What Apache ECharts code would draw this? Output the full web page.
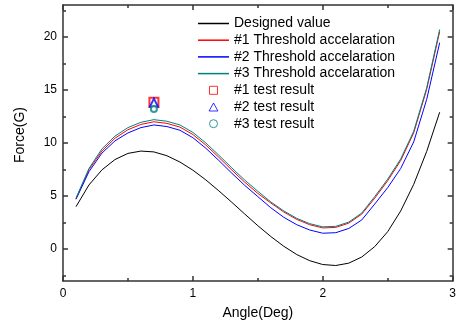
<!DOCTYPE html>
<html>
<head>
<meta charset="utf-8">
<script src="https://cdn.jsdelivr.net/npm/echarts@6/dist/echarts.min.js"></script>
<style>html,body{margin:0;padding:0;background:#fff;}#c{width:459px;height:325px;}</style>
</head>
<body>
<div id="c"></div>
<script>
var angles = [0.1,0.2,0.3,0.4,0.5,0.6,0.7,0.8,0.9,1.0,1.1,1.2,1.3,1.4,1.5,1.6,1.7,1.8,1.9,2.0,2.1,2.2,2.3,2.4,2.5,2.6,2.7,2.8,2.9];
var designed = [4.0,6.05,7.47,8.44,9.02,9.24,9.16,8.80,8.21,7.44,6.52,5.49,4.41,3.30,2.21,1.19,0.27,-0.51,-1.09,-1.45,-1.54,-1.32,-0.74,0.24,1.65,3.6,6.1,9.2,12.9];
var threshold1 = [4.75,7.5,9.25,10.45,11.25,11.75,12.0,11.85,11.5,10.8,9.8,8.65,7.45,6.3,5.25,4.35,3.5,2.8,2.3,2.0,2.05,2.45,3.3,4.8,6.45,8.35,10.95,15.05,20.5];
var threshold2 = [4.7,7.3,9.05,10.2,10.95,11.45,11.7,11.55,11.2,10.5,9.5,8.35,7.15,6.0,4.95,3.9,3.0,2.3,1.8,1.5,1.55,1.95,2.75,4.25,5.8,7.6,10.1,14.1,19.45];
var threshold3 = [4.8,7.6,9.45,10.65,11.45,11.95,12.2,12.05,11.7,11.0,10.0,8.85,7.65,6.5,5.45,4.45,3.6,2.9,2.4,2.1,2.15,2.55,3.4,4.95,6.6,8.5,11.1,15.2,20.7];
var testAngle = [0.7];
var test1 = [13.85];
var test2 = [13.8];
var test3 = [13.2];
var xMajor = [0,1,2,3];
var xMinor = [0.5,1.5,2.5];
var yMajor = [0,5,10,15,20];
var yMinor = [-2.5,2.5,7.5,12.5,17.5,22.5];
var names = ['Designed value','#1 Threshold accelaration','#2 Threshold accelaration','#3 Threshold accelaration','#1 test result','#2 test result','#3 test result'];
var colors = ['#000000','#ff0000','#0000ff','#008080','#ff0000','#0000ff','#008080'];

var LINE_ICON = 'path://M0,0H62V3H0Z';
var SQUARE_ICON = 'path://M0,0H10V10H0Z';
var TRI_ICON = 'path://M5,0L10,9L0,9Z';

function pairs(xs, ys){ return xs.map(function(x,i){ return [x, ys[i]]; }); }
var FONT = 'Liberation Sans, Arial, sans-serif';
var AX = {color:'#333', width:1.5};

function xAx(pos, ticks, len, showLine, labels){
  return {type:'value', min:0, max:3, position:pos, splitLine:{show:false},
    axisLine:{show:showLine, onZero:false, lineStyle:AX},
    axisTick:{show:true, inside:true, length:len, customValues:ticks, lineStyle:AX},
    axisLabel:labels ? {show:true, customValues:ticks, margin:7, fontSize:12, color:'#000', fontFamily:FONT} : {show:false}
  };
}
function yAx(pos, ticks, len, showLine, labels){
  return {type:'value', min:-3, max:23, position:pos, splitLine:{show:false},
    axisLine:{show:showLine, onZero:false, lineStyle:AX},
    axisTick:{show:true, inside:true, length:len, customValues:ticks, lineStyle:AX},
    axisLabel:labels ? {show:true, customValues:ticks, margin:6, fontSize:12, color:'#000', fontFamily:FONT} : {show:false}
  };
}

var xAxes = [xAx('bottom', xMajor, 5, true, true), xAx('bottom', xMinor, 3, false, false), xAx('top', xMajor, 5, true, false), xAx('top', xMinor, 3, false, false)];
xAxes[0].name = 'Angle(Deg)';
xAxes[0].nameLocation = 'middle';
xAxes[0].nameGap = 25;
xAxes[0].nameTextStyle = {fontSize:14, color:'#000', fontFamily:FONT};
var yAxes = [yAx('left', yMajor, 5, true, true), yAx('left', yMinor, 3, false, false), yAx('right', yMajor, 5, true, false), yAx('right', yMinor, 3, false, false)];

function lineS(name, ys, color){
  return {name:name, type:'line', data:pairs(angles, ys), symbol:'none', showSymbol:false,
    lineStyle:{color:color, width:1}, itemStyle:{color:color}, animation:false, xAxisIndex:0, yAxisIndex:0};
}
function scatS(name, ys, sym, size, color){
  return {name:name, type:'scatter', data:pairs(testAngle, ys), symbol:sym, symbolSize:size,
    itemStyle:{color:color, borderColor:color, borderWidth:1}, animation:false, xAxisIndex:0, yAxisIndex:0, z:5};
}

var legendData = [
  {name:names[0], icon:LINE_ICON, itemStyle:{color:colors[0], borderWidth:0}},
  {name:names[1], icon:LINE_ICON, itemStyle:{color:colors[1], borderWidth:0}},
  {name:names[2], icon:LINE_ICON, itemStyle:{color:colors[2], borderWidth:0}},
  {name:names[3], icon:LINE_ICON, itemStyle:{color:colors[3], borderWidth:0}},
  {name:names[4], icon:SQUARE_ICON, itemStyle:{color:'#fff', borderColor:colors[4], borderWidth:1}},
  {name:names[5], icon:TRI_ICON, itemStyle:{color:'#fff', borderColor:colors[5], borderWidth:1}},
  {name:names[6], icon:'circle', itemStyle:{color:'#fff', borderColor:colors[6], borderWidth:1}}
];

var chart = echarts.init(document.getElementById('c'), null, {renderer:'canvas'});
chart.setOption({
  animation:false,
  grid:{left:63, top:5, right:3, bottom:44, containLabel:false},
  xAxis:xAxes,
  yAxis:yAxes,
  legend:{
    orient:'vertical', left:198, top:16.5, padding:0, itemWidth:31, itemHeight:8, itemGap:2.7,
    symbolKeepAspect:true,
    textStyle:{fontSize:14, color:'#000', fontFamily:FONT, lineHeight:14},
    data:legendData
  },
  graphic:[{type:'text', left:13, top:107, rotation:Math.PI/2,
    style:{text:'Force(G)', font:'14px ' + FONT, fill:'#000'}}],
  series:[
    lineS(names[0], designed, colors[0]),
    lineS(names[1], threshold1, colors[1]),
    lineS(names[2], threshold2, colors[2]),
    lineS(names[3], threshold3, colors[3]),
    scatS(names[4], test1, 'emptyRect', 9, colors[4]),
    scatS(names[5], test2, 'emptyTriangle', 8, colors[5]),
    scatS(names[6], test3, 'emptyCircle', 6, colors[6])
  ]
});
</script>
</body>
</html>
